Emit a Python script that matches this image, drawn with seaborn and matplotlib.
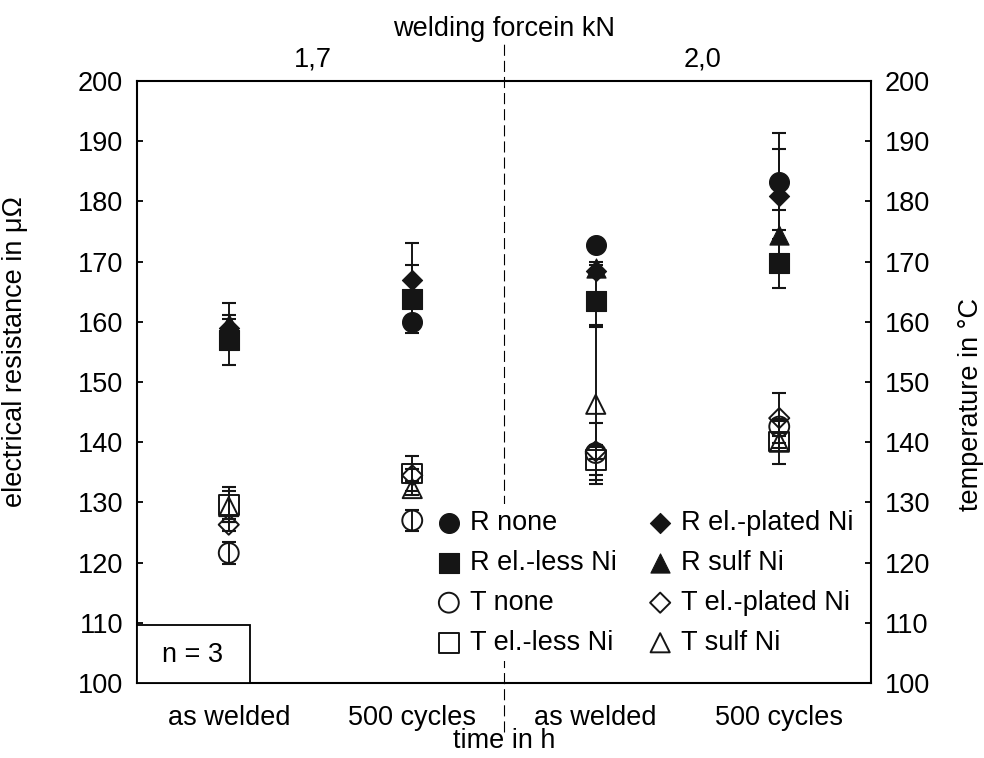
import numpy as np
import pandas as pd
import matplotlib
matplotlib.use("Agg")
import matplotlib.pyplot as plt
from matplotlib.patches import Rectangle
import seaborn as sns

# ---------------- data ----------------
categories = ["as welded", "500 cycles", "as welded", "500 cycles"]
force_labels = ["1,7", "2,0"]

series_names = ["R none", "R el.-less Ni", "T none", "T el.-less Ni",
                "R el.-plated Ni", "R sulf Ni", "T el.-plated Ni", "T sulf Ni"]

R_none = [158.0, 160.0, 172.7, 183.3]
R_none_err = [5.2, 1.0, 1.0, 8.0]
R_eless = [156.9, 163.8, 163.4, 169.7]
R_eless_err = [1.5, 5.7, 4.2, 4.1]
R_eplated = [159.0, 167.0, 168.5, 180.9]
R_eplated_err = [1.5, 6.1, 1.0, 7.8]
R_sulf = [159.7, 164.0, 169.0, 174.5]
R_sulf_err = [1.5, 1.0, 1.0, 4.0]
T_none = [121.6, 127.0, 138.2, 142.6]
T_none_err = [1.8, 1.7, 1.0, 1.0]
T_eless = [129.6, 134.8, 137.0, 140.1]
T_eless_err = [2.9, 2.9, 2.5, 3.7]
T_eplated = [126.3, 134.5, 138.5, 144.0]
T_eplated_err = [1.0, 1.0, 4.7, 4.2]
T_sulf = [129.3, 132.3, 146.3, 140.0]
T_sulf_err = [2.6, 1.0, 13.2, 1.0]

values = {
    "R none": (R_none, R_none_err),
    "R el.-less Ni": (R_eless, R_eless_err),
    "T none": (T_none, T_none_err),
    "T el.-less Ni": (T_eless, T_eless_err),
    "R el.-plated Ni": (R_eplated, R_eplated_err),
    "R sulf Ni": (R_sulf, R_sulf_err),
    "T el.-plated Ni": (T_eplated, T_eplated_err),
    "T sulf Ni": (T_sulf, T_sulf_err),
}

# ---------------- style ----------------
sns.set_theme(style="white")
plt.rcParams["font.family"] = ["Liberation Sans", "DejaVu Sans"]
FS = 19.5
DARK = "#151515"

marker_of = {"R none": "o", "R el.-less Ni": "s", "T none": "o", "T el.-less Ni": "s",
             "R el.-plated Ni": "D", "R sulf Ni": "^", "T el.-plated Ni": "D", "T sulf Ni": "^"}
size_of = {"o": 205, "s": 200, "D": 105, "^": 190}

fig = plt.figure(figsize=(9.84, 7.58), dpi=100)
ax = fig.add_axes([137 / 984, 75 / 758, 734 / 984, 602 / 758])

pos = np.arange(len(categories))
rows = []
for name in series_names:
    v, e = values[name]
    for p, cat, vv, ee in zip(pos, categories, v, e):
        rows.append({"series": name, "pos": p, "category": cat, "value": vv, "err": ee})
df = pd.DataFrame(rows)

for name in series_names:
    sub = df[df["series"] == name]
    m = marker_of[name]
    filled = name.startswith("R")
    if filled:
        sns.scatterplot(data=sub, x="pos", y="value", marker=m, s=size_of[m],
                        color=DARK, edgecolor=DARK, linewidth=0.8, ax=ax,
                        label=name, zorder=3)
    else:
        sns.scatterplot(data=sub, x="pos", y="value", marker=m, s=size_of[m],
                        facecolors="none", edgecolor=DARK, linewidth=1.4, ax=ax,
                        label=name, zorder=3)
    ax.errorbar(sub["pos"], sub["value"], yerr=sub["err"], fmt="none",
                ecolor=DARK, elinewidth=1.4, capsize=4.7, capthick=1.5, zorder=4)

ax.set_xlim(-0.5, len(categories) - 0.5)
ax.set_ylim(100, 200)
ax.set_yticks(np.arange(100, 201, 10))
ax.set_xticks(pos)
ax.set_xticklabels(categories, fontsize=FS)
ax.tick_params(axis="x", direction="in", length=2.5, width=1.2, pad=16, colors="black")
ax.tick_params(axis="y", direction="in", length=4, width=1.3, pad=10, labelsize=FS, colors="black")
ax.set_xlabel("time in h", fontsize=FS, labelpad=-2, color="black")
ax.set_ylabel("electrical resistance in μΩ", fontsize=FS, color="black")
ax.yaxis.set_label_coords(-0.1485, 0.55)

for sp in ax.spines.values():
    sp.set_color("black")
    sp.set_linewidth(1.5)
    sp.set_visible(True)

ax2 = ax.twinx()
ax2.set_ylim(100, 200)
ax2.set_yticks(np.arange(100, 201, 10))
ax2.tick_params(axis="y", direction="in", length=4, width=1.3, pad=10, labelsize=FS, colors="black")
ax2.set_ylabel("temperature in °C", fontsize=FS, color="black")
ax2.yaxis.set_label_coords(1.1185, 0.462)
for sp in ax2.spines.values():
    sp.set_visible(False)

# top: welding force
top = ax.secondary_xaxis("top")
top.set_xticks([0.46, 2.58])
top.set_xticklabels(force_labels, fontsize=FS)
top.tick_params(length=0, pad=6, colors="black")
top.set_xlabel("welding forcein kN", fontsize=FS, labelpad=8, color="black")
top.spines["top"].set_visible(False)

# dashed separator
ax.axvline(1.5, ymin=-0.082, ymax=1.063, color="black", lw=0.8,
           ls=(0, (10, 4.5)), clip_on=False, zorder=2)

# n = 3 box
ax.add_patch(Rectangle((0, 0), 0.154, 0.096, transform=ax.transAxes,
                       facecolor="white", edgecolor="black", lw=1.3, zorder=5))
ax.text(0.076, 0.046, "n = 3", transform=ax.transAxes, ha="center", va="center",
        fontsize=FS, color="black", zorder=6)

# legend
handles, labels = ax.get_legend_handles_labels()
hmap = dict(zip(labels, handles))
leg = ax.legend([hmap[n] for n in series_names], series_names, ncol=2,
                loc="upper left", bbox_to_anchor=(0.4027, 0.297), frameon=True,
                fontsize=FS, handlelength=0.8, handletextpad=0.38,
                columnspacing=1.2, labelspacing=0.52, borderpad=0.2, borderaxespad=0,
                fancybox=False, framealpha=1.0)
leg.get_frame().set_facecolor("white")
leg.get_frame().set_edgecolor("none")
for t in leg.get_texts():
    t.set_color("black")

fig.savefig("out.png", dpi=100)
